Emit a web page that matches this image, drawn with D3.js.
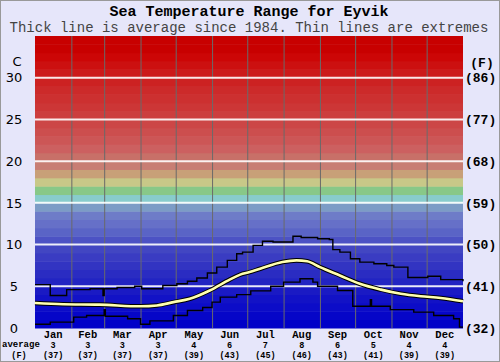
<!DOCTYPE html>
<html>
<head>
<meta charset="utf-8">
<script src="https://cdn.jsdelivr.net/npm/d3@7"></script>
<style>
  body { margin: 0; background: #e6e6fa; }
  svg { display: block; }
</style>
</head>
<body>
<svg id="svg" width="500" height="362"></svg>
<script>
// month labels and the averages printed under them
const months = ["Jan", "Feb", "Mar", "Apr", "May", "Jun", "Jul", "Aug", "Sep", "Oct", "Nov", "Dec"];
const monthDays = [31, 28, 31, 30, 31, 30, 31, 31, 30, 31, 30, 31];
const monthAvgC = [3, 3, 3, 3, 4, 6, 7, 8, 6, 5, 4, 4];
const monthAvgF = [37, 37, 37, 37, 39, 43, 45, 46, 43, 41, 39, 39];

const cTicks = [0, 5, 10, 15, 20, 25, 30];
const fTicks = [32, 41, 50, 59, 68, 77, 86];

// one colour per degree band, from 0-1 C upwards
const bandColors = [
  "#0000c8", "#0606c8", "#0c0cc8", "#1212c6", "#1a1ac4",
  "#2224c2", "#2a2cc2", "#3234c2", "#3a3cc2", "#4246c2",
  "#4c52c4", "#5a64c6", "#6670c8", "#6e7cc8", "#7c9cc6",
  "#88cccc", "#88c888", "#c8c888", "#c8a078", "#c87e74",
  "#c87068", "#cc6060", "#cc5656", "#cc4e4e", "#cc4646",
  "#cc3e3e", "#cc3636", "#cc3030", "#cc2a2a", "#cc2222",
  "#cc1a1a", "#cc1010", "#cc0606", "#c80000", "#c80000"
];

// average sea temperature (day of year, C)
const avgDay = [0, 24, 55, 90, 104, 118, 132, 149, 166, 175, 183, 192, 211, 223, 232, 243, 260, 277, 295, 312, 329, 346, 365];
const avgTemp = [3.0, 2.85, 2.8, 2.6, 2.7, 3.1, 3.5, 4.5, 5.8, 6.4, 6.7, 7.1, 7.9, 8.1, 8.0, 7.3, 6.3, 5.3, 4.6, 4.1, 3.8, 3.6, 3.2];

// highest recorded (steps)
const maxDay = [0, 13, 27, 47, 58, 59, 70, 85, 91, 109, 121, 130, 138, 147, 155, 164, 172, 177, 186, 194, 203, 220, 227, 241, 251, 254, 260, 269, 277, 289, 300, 306, 318, 335, 346, 365];
const maxTemp = [5.2, 3.9, 4.6, 4.7, 3.9, 4.7, 4.85, 5.0, 4.7, 5.1, 5.3, 5.6, 6.0, 6.6, 7.3, 8.1, 8.9, 9.1, 9.9, 10.4, 10.3, 11.0, 10.85, 10.7, 10.6, 9.4, 9.1, 8.3, 7.9, 7.7, 7.5, 7.3, 6.05, 6.2, 5.8, 5.6];

// lowest recorded (steps)
const minDay = [0, 13, 33, 44, 59, 60, 79, 90, 98, 118, 130, 143, 151, 158, 172, 184, 201, 212, 226, 237, 241, 258, 271, 286, 287, 303, 323, 340, 357, 362, 365];
const minTemp = [0.45, 0.7, 1.3, 1.5, 2.2, 1.4, 1.1, 0.45, 0.85, 1.5, 2.1, 2.45, 3.1, 3.7, 4.0, 4.45, 5.0, 5.5, 5.9, 5.5, 5.0, 4.5, 2.6, 3.4, 2.6, 2.2, 1.9, 1.5, 1.1, 0.1, 0.1];

let svg = d3.select("svg");
let margin = {top: 36, right: 37, bottom: 34, left: 35};
let width = 500 - margin.left - margin.right;
let height = 362 - margin.top - margin.bottom;
let mono = "'Liberation Mono', 'DejaVu Sans Mono', monospace";

svg.append("rect")
  .attr("width", 500).attr("height", 362)
  .attr("fill", "#e6e6fa");

let x = d3.scaleLinear().domain([0, 365]).range([0, width]);
let y = d3.scaleLinear().domain([0, 35]).range([height, 0]);

let g = svg.append("g")
  .attr("transform", "translate(" + margin.left + "," + margin.top + ")");

// coloured temperature bands
g.selectAll("rect.band")
  .data(bandColors)
  .enter().append("rect")
    .attr("class", "band")
    .attr("x", 0)
    .attr("width", width)
    .attr("y", (c, i) => y(i + 1))
    .attr("height", (c, i) => y(i) - y(i + 1) + 0.5)
    .attr("fill", c => c);

// month dividers
let starts = d3.cumsum(monthDays);
g.selectAll("line.month")
  .data(starts.slice(0, 11))
  .enter().append("line")
    .attr("x1", d => x(d) + 0.5).attr("x2", d => x(d) + 0.5)
    .attr("y1", 0).attr("y2", height)
    .attr("stroke", "#6a6a6a")
    .attr("stroke-width", 1);

// white 5 degree lines
g.selectAll("line.grid")
  .data(cTicks.slice(1))
  .enter().append("line")
    .attr("x1", 0).attr("x2", width)
    .attr("y1", d => y(d)).attr("y2", d => y(d))
    .attr("stroke", "#ffffff")
    .attr("stroke-opacity", 0.9)
    .attr("stroke-width", 2);

let pairs = (days, temps) => days.map((d, i) => ({day: d, value: temps[i]}));

let stepLine = d3.line()
  .x(d => x(d.day))
  .y(d => y(d.value))
  .curve(d3.curveStepAfter);

let smoothLine = d3.line()
  .x(d => x(d.day))
  .y(d => y(d.value))
  .curve(d3.curveMonotoneX);

[pairs(maxDay, maxTemp), pairs(minDay, minTemp)].forEach(data => {
  g.append("path")
   .datum(data)
   .attr("fill", "none")
   .attr("stroke", "#000000")
   .attr("stroke-width", 1.4)
   .attr("d", stepLine);
});

g.append("path")
 .datum(pairs(avgDay, avgTemp))
 .attr("fill", "none")
 .attr("stroke", "#000000")
 .attr("stroke-width", 4.6)
 .attr("stroke-linejoin", "round")
 .attr("d", smoothLine);

g.append("path")
 .datum(pairs(avgDay, avgTemp))
 .attr("fill", "none")
 .attr("stroke", "#ffffb0")
 .attr("stroke-width", 2.6)
 .attr("stroke-linejoin", "round")
 .attr("d", smoothLine);

// left Celsius labels
g.selectAll("text.c")
  .data(cTicks)
  .enter().append("text")
    .attr("x", -21).attr("y", d => y(d))
    .attr("dy", "0.36em")
    .attr("text-anchor", "middle")
    .attr("font-family", "'DejaVu Sans', sans-serif")
    .attr("font-size", 13)
    .attr("fill", "#000")
    .text(d => d);
g.append("text")
  .attr("x", -18).attr("y", 25)
  .attr("dy", "0.36em")
  .attr("text-anchor", "middle")
  .attr("font-family", "'DejaVu Sans', sans-serif")
  .attr("font-size", 13)
  .text("C");

// right Fahrenheit labels
g.selectAll("text.f")
  .data(cTicks)
  .enter().append("text")
    .attr("x", width + 2).attr("y", d => y(d))
    .attr("dy", "0.36em")
    .attr("font-family", mono)
    .attr("font-weight", "bold")
    .attr("font-size", 13)
    .text((d, i) => "(" + fTicks[i] + ")");
g.append("text")
  .attr("x", width + 19).attr("y", 26)
  .attr("dy", "0.36em")
  .attr("text-anchor", "middle")
  .attr("font-family", mono)
  .attr("font-weight", "bold")
  .attr("font-size", 13)
  .text("(F)");

// month labels with averages
let mids = months.map((m, i) => starts[i] - monthDays[i] / 2);
let bottom = g.append("g").attr("transform", "translate(0," + height + ")");
months.forEach((m, i) => {
  bottom.append("text")
    .attr("x", x(mids[i])).attr("y", 9.5)
    .attr("text-anchor", "middle")
    .attr("font-family", mono).attr("font-weight", "bold")
    .attr("font-size", 10.5)
    .text(m);
  bottom.append("text")
    .attr("x", x(mids[i])).attr("y", 20)
    .attr("text-anchor", "middle")
    .attr("font-family", mono).attr("font-weight", "bold")
    .attr("font-size", 8.5)
    .text(monthAvgC[i]);
  bottom.append("text")
    .attr("x", x(mids[i])).attr("y", 29.5)
    .attr("text-anchor", "middle")
    .attr("font-family", mono).attr("font-weight", "bold")
    .attr("font-size", 8.5)
    .text("(" + monthAvgF[i] + ")");
});
svg.append("text")
  .attr("x", 2).attr("y", 347)
  .attr("font-family", mono).attr("font-weight", "bold")
  .attr("font-size", 9)
  .text("average");
svg.append("text")
  .attr("x", 19).attr("y", 357.5)
  .attr("text-anchor", "middle")
  .attr("font-family", mono).attr("font-weight", "bold")
  .attr("font-size", 8.5)
  .text("(F)");

// titles
svg.append("text")
  .attr("x", 249).attr("y", 16)
  .attr("text-anchor", "middle")
  .attr("font-family", mono).attr("font-weight", "bold")
  .attr("font-size", 15)
  .text("Sea Temperature Range for Eyvik");
svg.append("text")
  .attr("x", 249).attr("y", 32)
  .attr("text-anchor", "middle")
  .attr("font-family", mono)
  .attr("font-size", 14)
  .attr("fill", "#444")
  .text("Thick line is average since 1984. Thin lines are extremes");

svg.append("rect")
  .attr("x", 0.5).attr("y", 0.5)
  .attr("width", 499).attr("height", 361)
  .attr("fill", "none")
  .attr("stroke", "#999");
</script>
</body>
</html>
